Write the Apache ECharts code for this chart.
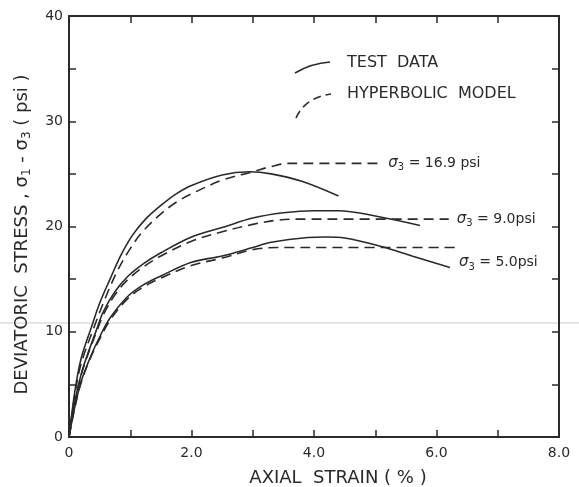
<!DOCTYPE html>
<html>
<head>
<meta charset="utf-8">
<script src="https://cdn.jsdelivr.net/npm/echarts@6/dist/echarts.min.js"></script>
<style>
html,body{margin:0;padding:0;background:#fff;}
#c{width:579px;height:487px;}
</style>
</head>
<body>
<div id="c"></div>
<script>
// ---- data (x = axial strain %, y = deviatoric stress psi) ----
const test169 = [[0,0],[0.1,4.5],[0.2,7.5],[0.37,10.5],[0.5,12.7],[0.67,15.0],[0.85,17.3],[1.04,19.2],[1.25,20.7],[1.5,22.0],[1.75,23.1],[2.0,23.9],[2.5,24.9],[2.95,25.2],[3.3,25.0],[3.8,24.3],[4.4,22.9]];
const model169 = [[0,0],[0.1,4.2],[0.2,7.0],[0.4,10.3],[0.6,13.3],[0.8,15.9],[1.0,17.9],[1.2,19.5],[1.5,21.2],[1.75,22.3],[2.0,23.1],[2.5,24.4],[3.0,25.2],[3.3,25.7],[3.6,26.0],[5.05,26.0]];
const test90 = [[0,0],[0.1,3.5],[0.2,6.0],[0.3,7.8],[0.45,10.2],[0.56,11.9],[0.75,13.8],[0.95,15.2],[1.2,16.4],[1.5,17.5],[2.0,19.0],[2.5,19.9],[3.0,20.8],[3.5,21.3],[4.0,21.5],[4.4,21.5],[5.0,21.0],[5.73,20.1]];
const model90 = [[0,0],[0.1,3.4],[0.2,5.9],[0.3,7.7],[0.45,10.0],[0.56,11.6],[0.75,13.5],[0.95,14.9],[1.2,16.1],[1.5,17.2],[2.0,18.6],[2.5,19.5],[3.0,20.2],[3.4,20.6],[3.8,20.7],[6.2,20.7]];
const test50 = [[0,0],[0.1,3.0],[0.2,5.3],[0.35,7.6],[0.5,9.5],[0.67,11.3],[0.95,13.3],[1.2,14.4],[1.5,15.3],[2.0,16.6],[2.5,17.2],[3.0,18.0],[3.3,18.5],[3.9,18.95],[4.2,19.0],[4.5,18.9],[5.1,18.1],[5.6,17.2],[6.22,16.1]];
const model50 = [[0,0],[0.1,2.9],[0.2,5.2],[0.35,7.5],[0.5,9.3],[0.67,11.1],[0.95,13.1],[1.2,14.2],[1.5,15.1],[2.0,16.3],[2.5,17.0],[3.0,17.8],[3.4,18.0],[6.3,18.0]];
const confiningLabels = ['16.9 psi', '9.0psi', '5.0psi'];
const legendNames = ['TEST  DATA', 'HYPERBOLIC  MODEL'];
const xTickLabels = {0:'0', 2:'2.0', 4:'4.0', 6:'6.0', 8:'8.0'};
const yTickLabels = {0:'0', 10:'10', 20:'20', 30:'30', 40:'40'};

const INK = '#2a2a2a';
const FONT = 'DejaVu Sans';
const lineW = 1.6;

function sigmaRich(val){
  return '{s|σ}{b|3}{t| = ' + val + '}';
}
const richStyle = {
  s:{fontFamily:FONT,fontSize:15,color:INK,fontStyle:'italic'},
  b:{fontFamily:FONT,fontSize:10,color:INK,padding:[9,0,0,0]},
  t:{fontFamily:FONT,fontSize:14,color:INK}
};

function solid(name, data){
  return {type:'line', name:name, data:data, showSymbol:false, symbol:'none', smooth:0.35,
    lineStyle:{color:INK, width:lineW}, z:3, silent:true};
}
function dashed(name, data, label, off){
  return {type:'line', name:name, data:data, showSymbol:false, symbol:'none', smooth:0.35,
    lineStyle:{color:INK, width:lineW, type:[10,6]}, z:3, silent:true,
    endLabel:{show:true, formatter:function(){return sigmaRich(label);}, offset:off, distance:8, rich:richStyle}};
}
const frameAxis = {
  axisLine:{show:true, onZero:false, lineStyle:{color:INK, width:2}},
  axisTick:{show:true, inside:true, length:7, lineStyle:{color:INK, width:1.5}},
  splitLine:{show:false}
};

const chart = echarts.init(document.getElementById('c'), null, {renderer:'canvas'});
chart.setOption({
  backgroundColor:'#ffffff',
  animation:false,
  grid:{left:69, right:20, top:16, bottom:50, containLabel:false, outerBoundsMode:'none'},
  xAxis:[Object.assign({
    type:'value', min:0, max:8, interval:1, position:'bottom',
    name:'AXIAL  STRAIN ( % )', nameLocation:'middle', nameGap:32,
    nameTextStyle:{fontFamily:FONT, fontSize:18, color:INK, padding:[0,0,0,48]},
    axisLabel:{fontFamily:FONT, fontSize:14, color:INK, margin:9,
      formatter:function(v){return xTickLabels[v] !== undefined ? xTickLabels[v] : '';}}
  }, frameAxis),
  Object.assign({
    type:'value', min:0, max:8, interval:1, position:'top', axisLabel:{show:false}
  }, frameAxis)],
  yAxis:[Object.assign({
    type:'value', min:0, max:40, interval:5, position:'left',
    name:'{n|DEVIATORIC  STRESS , σ}{b|1}{n| - σ}{b|3}{n| ( psi )}', nameLocation:'middle', nameGap:36,
    nameTextStyle:{fontFamily:FONT, fontSize:18, color:INK, padding:[0,16,0,0],
      rich:{n:{fontFamily:FONT,fontSize:18,color:INK}, b:{fontFamily:FONT,fontSize:12,color:INK,padding:[10,0,0,0]}}},
    axisLabel:{fontFamily:FONT, fontSize:14, color:INK, margin:6,
      formatter:function(v){return yTickLabels[v] !== undefined ? yTickLabels[v] : '';}}
  }, frameAxis),
  Object.assign({
    type:'value', min:0, max:40, interval:5, position:'right', axisLabel:{show:false}
  }, frameAxis)],
  graphic:[
    // faint scan line across the page
    {type:'line', silent:true, z:0, shape:{x1:0, y1:323, x2:579, y2:323}, style:{stroke:'#dcdcdc', lineWidth:1.5}},
    // legend symbols
    {type:'bezierCurve', silent:true, shape:{x1:295, y1:73, cpx1:305, cpy1:67, cpx2:315, cpy2:63, x2:330, y2:62},
      style:{stroke:INK, lineWidth:lineW, fill:null}},
    {type:'bezierCurve', silent:true, shape:{x1:296, y1:118, cpx1:302, cpy1:104, cpx2:315, cpy2:96, x2:331, y2:94},
      style:{stroke:INK, lineWidth:lineW, fill:null, lineDash:[8,5]}},
    {type:'text', silent:true, style:{x:347, y:63, text:legendNames[0], fontFamily:FONT, fontSize:16, fill:INK, verticalAlign:'middle'}},
    {type:'text', silent:true, style:{x:347, y:94, text:legendNames[1], fontFamily:FONT, fontSize:16, fill:INK, verticalAlign:'middle'}}
  ],
  series:[
    solid('test 16.9', test169),
    dashed('model 16.9', model169, confiningLabels[0], [2,0]),
    solid('test 9.0', test90),
    dashed('model 9.0', model90, confiningLabels[1], [0,0]),
    solid('test 5.0', test50),
    dashed('model 5.0', model50, confiningLabels[2], [-4,15])
  ]
});
</script>
</body>
</html>
